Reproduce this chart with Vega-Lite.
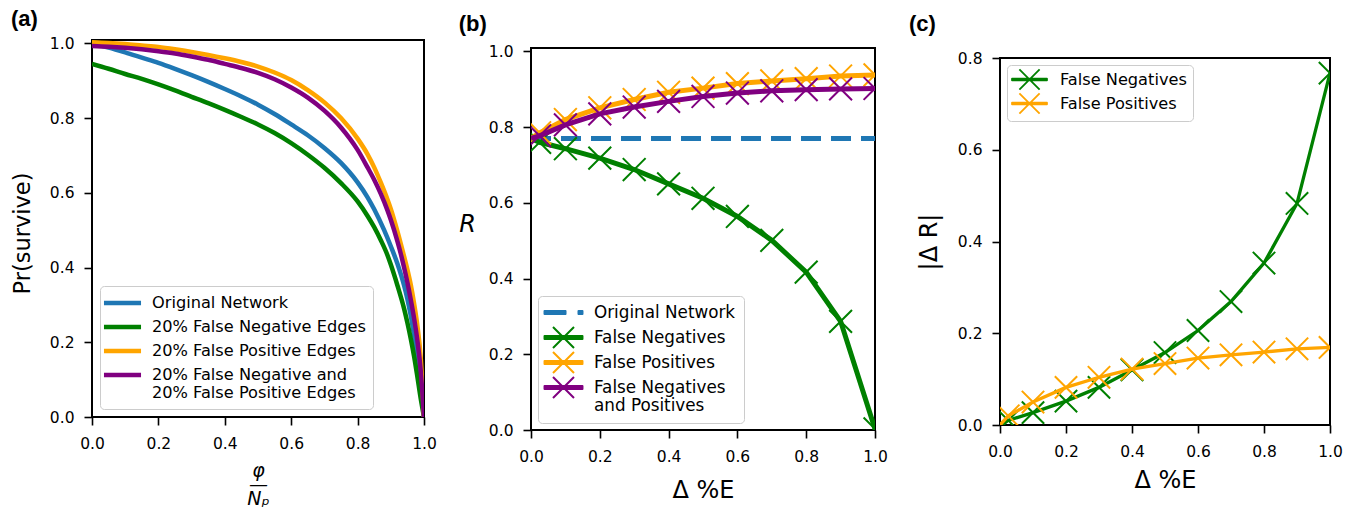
{
  "$schema": "https://vega.github.io/schema/vega-lite/v6.json",
  "background": "white",
  "padding": {"left": 10, "top": 0, "right": 0, "bottom": 0},
  "spacing": 19,
  "resolve": {"scale": {"color": "independent"}, "legend": {"color": "independent"}},
  "config": {
    "font": "DejaVu Sans",
    "view": {"stroke": "black", "strokeWidth": 2},
    "axis": {"grid": false, "domain": false, "tickColor": "black", "tickWidth": 1.6, "tickSize": 8, "labelFont": "DejaVu Sans", "labelFontSize": 15.5, "labelColor": "black", "labelFlush": false, "titleFont": "DejaVu Sans", "titleColor": "black", "titleFontWeight": "normal"},
    "axisX": {"labelPadding": 11},
    "axisY": {"labelPadding": 10},
    "legend": {"labelColor": "black", "labelFont": "DejaVu Sans", "labelFontSize": 16.2},
    "title": {"font": "Liberation Sans", "fontSize": 22, "fontWeight": "bold", "anchor": "start", "frame": "bounds", "color": "black"}
  },
  "datasets": {
    "a": [
      {"series": "Original Network", "x": 0, "y": 1.0}, {"series": "Original Network", "x": 0.05, "y": 0.989}, {"series": "Original Network", "x": 0.1, "y": 0.976}, {"series": "Original Network", "x": 0.15, "y": 0.962}, {"series": "Original Network", "x": 0.2, "y": 0.948}, {"series": "Original Network", "x": 0.25, "y": 0.932}, {"series": "Original Network", "x": 0.3, "y": 0.915}, {"series": "Original Network", "x": 0.35, "y": 0.897}, {"series": "Original Network", "x": 0.4, "y": 0.878}, {"series": "Original Network", "x": 0.45, "y": 0.858}, {"series": "Original Network", "x": 0.5, "y": 0.836}, {"series": "Original Network", "x": 0.55, "y": 0.811}, {"series": "Original Network", "x": 0.6, "y": 0.783}, {"series": "Original Network", "x": 0.65, "y": 0.754}, {"series": "Original Network", "x": 0.7, "y": 0.72}, {"series": "Original Network", "x": 0.75, "y": 0.68}, {"series": "Original Network", "x": 0.8, "y": 0.628}, {"series": "Original Network", "x": 0.83, "y": 0.588}, {"series": "Original Network", "x": 0.85, "y": 0.556}, {"series": "Original Network", "x": 0.88, "y": 0.5}, {"series": "Original Network", "x": 0.9, "y": 0.457}, {"series": "Original Network", "x": 0.92, "y": 0.41}, {"series": "Original Network", "x": 0.94, "y": 0.352}, {"series": "Original Network", "x": 0.95, "y": 0.316}, {"series": "Original Network", "x": 0.96, "y": 0.272}, {"series": "Original Network", "x": 0.97, "y": 0.22}, {"series": "Original Network", "x": 0.98, "y": 0.16}, {"series": "Original Network", "x": 0.99, "y": 0.09}, {"series": "Original Network", "x": 1, "y": 0},
      {"series": "20% False Negative Edges", "x": 0, "y": 0.945}, {"series": "20% False Negative Edges", "x": 0.05, "y": 0.932}, {"series": "20% False Negative Edges", "x": 0.1, "y": 0.918}, {"series": "20% False Negative Edges", "x": 0.15, "y": 0.905}, {"series": "20% False Negative Edges", "x": 0.2, "y": 0.89}, {"series": "20% False Negative Edges", "x": 0.25, "y": 0.874}, {"series": "20% False Negative Edges", "x": 0.3, "y": 0.857}, {"series": "20% False Negative Edges", "x": 0.35, "y": 0.84}, {"series": "20% False Negative Edges", "x": 0.4, "y": 0.822}, {"series": "20% False Negative Edges", "x": 0.45, "y": 0.803}, {"series": "20% False Negative Edges", "x": 0.5, "y": 0.783}, {"series": "20% False Negative Edges", "x": 0.55, "y": 0.76}, {"series": "20% False Negative Edges", "x": 0.6, "y": 0.733}, {"series": "20% False Negative Edges", "x": 0.65, "y": 0.702}, {"series": "20% False Negative Edges", "x": 0.7, "y": 0.667}, {"series": "20% False Negative Edges", "x": 0.75, "y": 0.626}, {"series": "20% False Negative Edges", "x": 0.8, "y": 0.577}, {"series": "20% False Negative Edges", "x": 0.83, "y": 0.538}, {"series": "20% False Negative Edges", "x": 0.85, "y": 0.508}, {"series": "20% False Negative Edges", "x": 0.87, "y": 0.473}, {"series": "20% False Negative Edges", "x": 0.89, "y": 0.433}, {"series": "20% False Negative Edges", "x": 0.9, "y": 0.408}, {"series": "20% False Negative Edges", "x": 0.92, "y": 0.352}, {"series": "20% False Negative Edges", "x": 0.94, "y": 0.29}, {"series": "20% False Negative Edges", "x": 0.95, "y": 0.252}, {"series": "20% False Negative Edges", "x": 0.96, "y": 0.21}, {"series": "20% False Negative Edges", "x": 0.97, "y": 0.163}, {"series": "20% False Negative Edges", "x": 0.98, "y": 0.108}, {"series": "20% False Negative Edges", "x": 0.99, "y": 0.05}, {"series": "20% False Negative Edges", "x": 1, "y": 0},
      {"series": "20% False Positive Edges", "x": 0, "y": 1.003}, {"series": "20% False Positive Edges", "x": 0.05, "y": 1.001}, {"series": "20% False Positive Edges", "x": 0.1, "y": 0.998}, {"series": "20% False Positive Edges", "x": 0.15, "y": 0.994}, {"series": "20% False Positive Edges", "x": 0.2, "y": 0.99}, {"series": "20% False Positive Edges", "x": 0.25, "y": 0.984}, {"series": "20% False Positive Edges", "x": 0.3, "y": 0.977}, {"series": "20% False Positive Edges", "x": 0.35, "y": 0.969}, {"series": "20% False Positive Edges", "x": 0.4, "y": 0.96}, {"series": "20% False Positive Edges", "x": 0.45, "y": 0.95}, {"series": "20% False Positive Edges", "x": 0.5, "y": 0.938}, {"series": "20% False Positive Edges", "x": 0.55, "y": 0.922}, {"series": "20% False Positive Edges", "x": 0.6, "y": 0.902}, {"series": "20% False Positive Edges", "x": 0.65, "y": 0.875}, {"series": "20% False Positive Edges", "x": 0.7, "y": 0.842}, {"series": "20% False Positive Edges", "x": 0.75, "y": 0.8}, {"series": "20% False Positive Edges", "x": 0.8, "y": 0.745}, {"series": "20% False Positive Edges", "x": 0.83, "y": 0.703}, {"series": "20% False Positive Edges", "x": 0.85, "y": 0.668}, {"series": "20% False Positive Edges", "x": 0.87, "y": 0.627}, {"series": "20% False Positive Edges", "x": 0.89, "y": 0.582}, {"series": "20% False Positive Edges", "x": 0.9, "y": 0.557}, {"series": "20% False Positive Edges", "x": 0.92, "y": 0.497}, {"series": "20% False Positive Edges", "x": 0.94, "y": 0.43}, {"series": "20% False Positive Edges", "x": 0.95, "y": 0.395}, {"series": "20% False Positive Edges", "x": 0.96, "y": 0.355}, {"series": "20% False Positive Edges", "x": 0.97, "y": 0.305}, {"series": "20% False Positive Edges", "x": 0.98, "y": 0.245}, {"series": "20% False Positive Edges", "x": 0.99, "y": 0.16}, {"series": "20% False Positive Edges", "x": 1, "y": 0},
      {"series": "20% False Negative and 20% False Positive Edges", "x": 0, "y": 0.993}, {"series": "20% False Negative and 20% False Positive Edges", "x": 0.05, "y": 0.991}, {"series": "20% False Negative and 20% False Positive Edges", "x": 0.1, "y": 0.988}, {"series": "20% False Negative and 20% False Positive Edges", "x": 0.15, "y": 0.984}, {"series": "20% False Negative and 20% False Positive Edges", "x": 0.2, "y": 0.979}, {"series": "20% False Negative and 20% False Positive Edges", "x": 0.25, "y": 0.973}, {"series": "20% False Negative and 20% False Positive Edges", "x": 0.3, "y": 0.965}, {"series": "20% False Negative and 20% False Positive Edges", "x": 0.35, "y": 0.956}, {"series": "20% False Negative and 20% False Positive Edges", "x": 0.4, "y": 0.945}, {"series": "20% False Negative and 20% False Positive Edges", "x": 0.45, "y": 0.934}, {"series": "20% False Negative and 20% False Positive Edges", "x": 0.5, "y": 0.921}, {"series": "20% False Negative and 20% False Positive Edges", "x": 0.55, "y": 0.904}, {"series": "20% False Negative and 20% False Positive Edges", "x": 0.6, "y": 0.882}, {"series": "20% False Negative and 20% False Positive Edges", "x": 0.65, "y": 0.855}, {"series": "20% False Negative and 20% False Positive Edges", "x": 0.7, "y": 0.82}, {"series": "20% False Negative and 20% False Positive Edges", "x": 0.75, "y": 0.775}, {"series": "20% False Negative and 20% False Positive Edges", "x": 0.8, "y": 0.715}, {"series": "20% False Negative and 20% False Positive Edges", "x": 0.83, "y": 0.668}, {"series": "20% False Negative and 20% False Positive Edges", "x": 0.85, "y": 0.635}, {"series": "20% False Negative and 20% False Positive Edges", "x": 0.87, "y": 0.597}, {"series": "20% False Negative and 20% False Positive Edges", "x": 0.89, "y": 0.553}, {"series": "20% False Negative and 20% False Positive Edges", "x": 0.9, "y": 0.528}, {"series": "20% False Negative and 20% False Positive Edges", "x": 0.92, "y": 0.47}, {"series": "20% False Negative and 20% False Positive Edges", "x": 0.93, "y": 0.437}, {"series": "20% False Negative and 20% False Positive Edges", "x": 0.94, "y": 0.4}, {"series": "20% False Negative and 20% False Positive Edges", "x": 0.95, "y": 0.36}, {"series": "20% False Negative and 20% False Positive Edges", "x": 0.96, "y": 0.315}, {"series": "20% False Negative and 20% False Positive Edges", "x": 0.97, "y": 0.265}, {"series": "20% False Negative and 20% False Positive Edges", "x": 0.98, "y": 0.205}, {"series": "20% False Negative and 20% False Positive Edges", "x": 0.99, "y": 0.125}, {"series": "20% False Negative and 20% False Positive Edges", "x": 1, "y": 0}
    ],
    "b": [
      {"series": "Original Network", "x": 0, "R": 0.77}, {"series": "Original Network", "x": 1, "R": 0.77},
      {"series": "False Negatives", "x": 0, "R": 0.77}, {"series": "False Negatives", "x": 0.025, "R": 0.76}, {"series": "False Negatives", "x": 0.1, "R": 0.743}, {"series": "False Negatives", "x": 0.2, "R": 0.718}, {"series": "False Negatives", "x": 0.3, "R": 0.688}, {"series": "False Negatives", "x": 0.4, "R": 0.65}, {"series": "False Negatives", "x": 0.5, "R": 0.612}, {"series": "False Negatives", "x": 0.6, "R": 0.564}, {"series": "False Negatives", "x": 0.7, "R": 0.501}, {"series": "False Negatives", "x": 0.8, "R": 0.417}, {"series": "False Negatives", "x": 0.9, "R": 0.287}, {"series": "False Negatives", "x": 1, "R": 0.003},
      {"series": "False Positives", "x": 0, "R": 0.77}, {"series": "False Positives", "x": 0.025, "R": 0.785}, {"series": "False Positives", "x": 0.1, "R": 0.82}, {"series": "False Positives", "x": 0.2, "R": 0.851}, {"series": "False Positives", "x": 0.3, "R": 0.873}, {"series": "False Positives", "x": 0.4, "R": 0.892}, {"series": "False Positives", "x": 0.5, "R": 0.903}, {"series": "False Positives", "x": 0.6, "R": 0.915}, {"series": "False Positives", "x": 0.7, "R": 0.922}, {"series": "False Positives", "x": 0.8, "R": 0.928}, {"series": "False Positives", "x": 0.9, "R": 0.935}, {"series": "False Positives", "x": 1, "R": 0.938},
      {"series": "False Negatives and Positives", "x": 0, "R": 0.77}, {"series": "False Negatives and Positives", "x": 0.025, "R": 0.777}, {"series": "False Negatives and Positives", "x": 0.1, "R": 0.806}, {"series": "False Negatives and Positives", "x": 0.2, "R": 0.835}, {"series": "False Negatives and Positives", "x": 0.3, "R": 0.853}, {"series": "False Negatives and Positives", "x": 0.4, "R": 0.868}, {"series": "False Negatives and Positives", "x": 0.5, "R": 0.881}, {"series": "False Negatives and Positives", "x": 0.6, "R": 0.89}, {"series": "False Negatives and Positives", "x": 0.7, "R": 0.896}, {"series": "False Negatives and Positives", "x": 0.8, "R": 0.899}, {"series": "False Negatives and Positives", "x": 0.9, "R": 0.901}, {"series": "False Negatives and Positives", "x": 1, "R": 0.902}
    ],
    "c": [
      {"series": "False Negatives", "x": 0, "dR": 0}, {"series": "False Negatives", "x": 0.025, "dR": 0.01}, {"series": "False Negatives", "x": 0.1, "dR": 0.027}, {"series": "False Negatives", "x": 0.2, "dR": 0.052}, {"series": "False Negatives", "x": 0.3, "dR": 0.082}, {"series": "False Negatives", "x": 0.4, "dR": 0.12}, {"series": "False Negatives", "x": 0.5, "dR": 0.158}, {"series": "False Negatives", "x": 0.6, "dR": 0.206}, {"series": "False Negatives", "x": 0.7, "dR": 0.269}, {"series": "False Negatives", "x": 0.8, "dR": 0.353}, {"series": "False Negatives", "x": 0.9, "dR": 0.483}, {"series": "False Negatives", "x": 1, "dR": 0.767},
      {"series": "False Positives", "x": 0, "dR": 0}, {"series": "False Positives", "x": 0.025, "dR": 0.02}, {"series": "False Positives", "x": 0.1, "dR": 0.05}, {"series": "False Positives", "x": 0.2, "dR": 0.082}, {"series": "False Positives", "x": 0.3, "dR": 0.104}, {"series": "False Positives", "x": 0.4, "dR": 0.122}, {"series": "False Positives", "x": 0.5, "dR": 0.134}, {"series": "False Positives", "x": 0.6, "dR": 0.146}, {"series": "False Positives", "x": 0.7, "dR": 0.153}, {"series": "False Positives", "x": 0.8, "dR": 0.159}, {"series": "False Positives", "x": 0.9, "dR": 0.166}, {"series": "False Positives", "x": 1, "dR": 0.169}
    ]
  },
  "hconcat": [
    {
      "spacing": 0,
      "resolve": {"scale": {"color": "independent"}, "legend": {"color": "independent"}},
      "vconcat": [
        {"width": 332, "height": 6, "data": {"values": []}, "mark": "point", "encoding": {}, "view": {"stroke": null}},
        {
          "title": {"text": "(a)", "offset": 5.7},
          "width": 332,
          "height": 377,
          "data": {"name": "a"},
          "mark": {"type": "line", "strokeWidth": 4.5, "interpolate": "monotone", "clip": true},
          "encoding": {
            "x": {"field": "x", "type": "quantitative", "scale": {"domain": [0, 1], "nice": false, "zero": false},
              "axis": {"values": [0, 0.2, 0.4, 0.6, 0.8, 1], "format": ".1f", "title": ["φ", "—", "Nₚ"], "titleFontStyle": "italic", "titleFontSize": 19, "titleLineHeight": 14, "titlePadding": 10}},
            "y": {"field": "y", "type": "quantitative", "scale": {"domain": [0, 1.009], "nice": false},
              "axis": {"values": [0, 0.2, 0.4, 0.6, 0.8, 1], "format": ".1f", "title": "Pr(survive)", "titleFontSize": 22.5, "titleX": -70, "titleY": 193, "titleAlign": "center", "titleBaseline": "middle"}},
            "color": {"field": "series", "type": "nominal",
              "scale": {"domain": ["Original Network", "20% False Negative Edges", "20% False Positive Edges", "20% False Negative and 20% False Positive Edges"], "range": ["#1f77b4", "#008000", "#ffa500", "#800080"]},
              "legend": {"title": null, "orient": "bottom-left", "offset": 8, "padding": 7, "rowPadding": 5, "symbolOffset": 5.5, "labelOffset": 19.5, "labelLimit": 400, "symbolType": "M-2.47,0L2.47,0", "symbolSize": 225, "symbolStrokeWidth": 4.5, "strokeColor": "#cccccc", "fillColor": "rgba(255,255,255,0.8)", "cornerRadius": 4,
                "labelExpr": "datum.label === '20% False Negative and 20% False Positive Edges' ? ['20% False Negative and', '20% False Positive Edges'] : datum.label",
                "encode": {"labels": {"update": {"lineHeight": {"value": 18}}}}}}
          }
        }
      ]
    },
    {
      "spacing": 0,
      "resolve": {"scale": {"color": "independent"}, "legend": {"color": "independent"}},
      "vconcat": [
        {"width": 344, "height": 11.5, "data": {"values": []}, "mark": "point", "encoding": {}, "view": {"stroke": null}},
        {
          "title": {"text": "(b)", "offset": 8.3},
          "width": 344,
          "height": 382,
          "data": {"name": "b"},
          "encoding": {
            "x": {"field": "x", "type": "quantitative", "scale": {"domain": [0, 1], "nice": false, "zero": false},
              "axis": {"values": [0, 0.2, 0.4, 0.6, 0.8, 1], "format": ".1f", "title": "Δ %E", "titleFontSize": 24, "titlePadding": 14}},
            "y": {"field": "R", "type": "quantitative", "scale": {"domain": [0, 1.009], "nice": false},
              "axis": {"values": [0, 0.2, 0.4, 0.6, 0.8, 1], "format": ".1f", "title": "R", "titleFontStyle": "italic", "titleFontSize": 24, "titleAngle": 0, "titleX": -64, "titleY": 176, "titleAlign": "center", "titleBaseline": "middle"}},
            "color": {"field": "series", "type": "nominal",
              "scale": {"domain": ["Original Network", "False Negatives", "False Positives", "False Negatives and Positives"], "range": ["#1f77b4", "#008000", "#ffa500", "#800080"]},
              "legend": {"title": null, "orient": "bottom-left", "offset": 7, "padding": 8, "rowPadding": 2, "symbolOffset": 9, "labelOffset": 22, "labelLimit": 400, "labelFontSize": 16.8, "symbolSize": 225, "symbolStrokeWidth": 2, "strokeColor": "#cccccc", "fillColor": "rgba(255,255,255,0.8)", "cornerRadius": 4,
                "labelExpr": "datum.label === 'False Negatives and Positives' ? ['False Negatives', 'and Positives'] : datum.label",
                "encode": {
                  "symbols": {"update": {
                    "shape": {"signal": "datum.value === 'Original Network' ? 'M-2.53,-0.2L0.27,-0.2L0.27,0.2L-2.53,0.2Z M2.0,-0.2L2.53,-0.2L2.53,0.2L2.0,0.2Z M0,-1.4M0,1.4' : 'M-2.53,-0.2L2.53,-0.2L2.53,0.2L-2.53,0.2Z M-1.4,-1.4L1.4,1.4 M-1.4,1.4L1.4,-1.4'"},
                    "fill": {"signal": "datum.value === 'Original Network' ? '#1f77b4' : datum.value === 'False Negatives' ? '#008000' : datum.value === 'False Positives' ? '#ffa500' : '#800080'"},
                    "stroke": {"signal": "datum.value === 'Original Network' ? '#1f77b4' : datum.value === 'False Negatives' ? '#008000' : datum.value === 'False Positives' ? '#ffa500' : '#800080'"},
                    "strokeJoin": {"value": "round"},
                    "opacity": {"value": 1}
                  }},
                  "labels": {"update": {"lineHeight": {"value": 18}}}
                }}}
          },
          "layer": [
            {"transform": [{"filter": "datum.series === 'Original Network'"}], "mark": {"type": "line", "strokeWidth": 5, "strokeDash": [20, 10], "clip": true}},
            {"transform": [{"filter": "datum.series === 'False Negatives'"}], "mark": {"type": "line", "strokeWidth": 5, "clip": true}},
            {"transform": [{"filter": "datum.series === 'False Negatives' && datum.x > 0"}], "mark": {"type": "point", "shape": "M-1,-1L1,1M-1,1L1,-1", "size": 520, "strokeWidth": 2, "filled": false, "opacity": 1, "clip": true}},
            {"transform": [{"filter": "datum.series === 'False Positives'"}], "mark": {"type": "line", "strokeWidth": 5, "clip": true}},
            {"transform": [{"filter": "datum.series === 'False Positives' && datum.x > 0"}], "mark": {"type": "point", "shape": "M-1,-1L1,1M-1,1L1,-1", "size": 520, "strokeWidth": 2, "filled": false, "opacity": 1, "clip": true}},
            {"transform": [{"filter": "datum.series === 'False Negatives and Positives'"}], "mark": {"type": "line", "strokeWidth": 5, "clip": true}},
            {"transform": [{"filter": "datum.series === 'False Negatives and Positives' && datum.x > 0"}], "mark": {"type": "point", "shape": "M-1,-1L1,1M-1,1L1,-1", "size": 520, "strokeWidth": 2, "filled": false, "opacity": 1, "clip": true}}
          ]
        }
      ]
    },
    {
      "spacing": 0,
      "resolve": {"scale": {"color": "independent"}, "legend": {"color": "independent"}},
      "vconcat": [
        {"width": 330, "height": 11.5, "data": {"values": []}, "mark": "point", "encoding": {}, "view": {"stroke": null}},
        {
          "title": {"text": "(c)", "offset": 15, "dx": -8},
          "width": 330,
          "height": 367,
          "data": {"name": "c"},
          "encoding": {
            "x": {"field": "x", "type": "quantitative", "scale": {"domain": [0, 1], "nice": false, "zero": false},
              "axis": {"values": [0, 0.2, 0.4, 0.6, 0.8, 1], "format": ".1f", "title": "Δ %E", "titleFontSize": 24, "titlePadding": 9}},
            "y": {"field": "dR", "type": "quantitative", "scale": {"domain": [0, 0.8], "nice": false},
              "axis": {"values": [0, 0.2, 0.4, 0.6, 0.8], "format": ".1f", "title": "|Δ R|", "titleFontSize": 24, "titleX": -71, "titleBaseline": "middle"}},
            "color": {"field": "series", "type": "nominal",
              "scale": {"domain": ["False Negatives", "False Positives"], "range": ["#008000", "#ffa500"]},
              "legend": {"title": null, "orient": "top-left", "offset": 7, "padding": 6, "rowPadding": 1, "symbolOffset": 8, "labelOffset": 22, "labelLimit": 400, "symbolSize": 225, "symbolStrokeWidth": 1.8, "strokeColor": "#cccccc", "fillColor": "rgba(255,255,255,0.8)", "cornerRadius": 4,
                "encode": {
                  "symbols": {"update": {
                    "shape": {"value": "M-2.33,-0.1L2.33,-0.1L2.33,0.1L-2.33,0.1Z M-1.35,-1.35L1.35,1.35 M-1.35,1.35L1.35,-1.35"},
                    "fill": {"signal": "datum.value === 'False Negatives' ? '#008000' : '#ffa500'"},
                    "stroke": {"signal": "datum.value === 'False Negatives' ? '#008000' : '#ffa500'"},
                    "strokeJoin": {"value": "round"},
                    "opacity": {"value": 1}
                  }}
                }}}
          },
          "layer": [
            {"transform": [{"filter": "datum.series === 'False Negatives'"}], "mark": {"type": "line", "strokeWidth": 3.3, "clip": true}},
            {"transform": [{"filter": "datum.series === 'False Negatives' && datum.x > 0"}], "mark": {"type": "point", "shape": "M-1,-1L1,1M-1,1L1,-1", "size": 500, "strokeWidth": 2, "filled": false, "opacity": 1, "clip": true}},
            {"transform": [{"filter": "datum.series === 'False Positives'"}], "mark": {"type": "line", "strokeWidth": 3.3, "clip": true}},
            {"transform": [{"filter": "datum.series === 'False Positives' && datum.x > 0"}], "mark": {"type": "point", "shape": "M-1,-1L1,1M-1,1L1,-1", "size": 500, "strokeWidth": 2, "filled": false, "opacity": 1, "clip": true}}
          ]
        }
      ]
    }
  ]
}
